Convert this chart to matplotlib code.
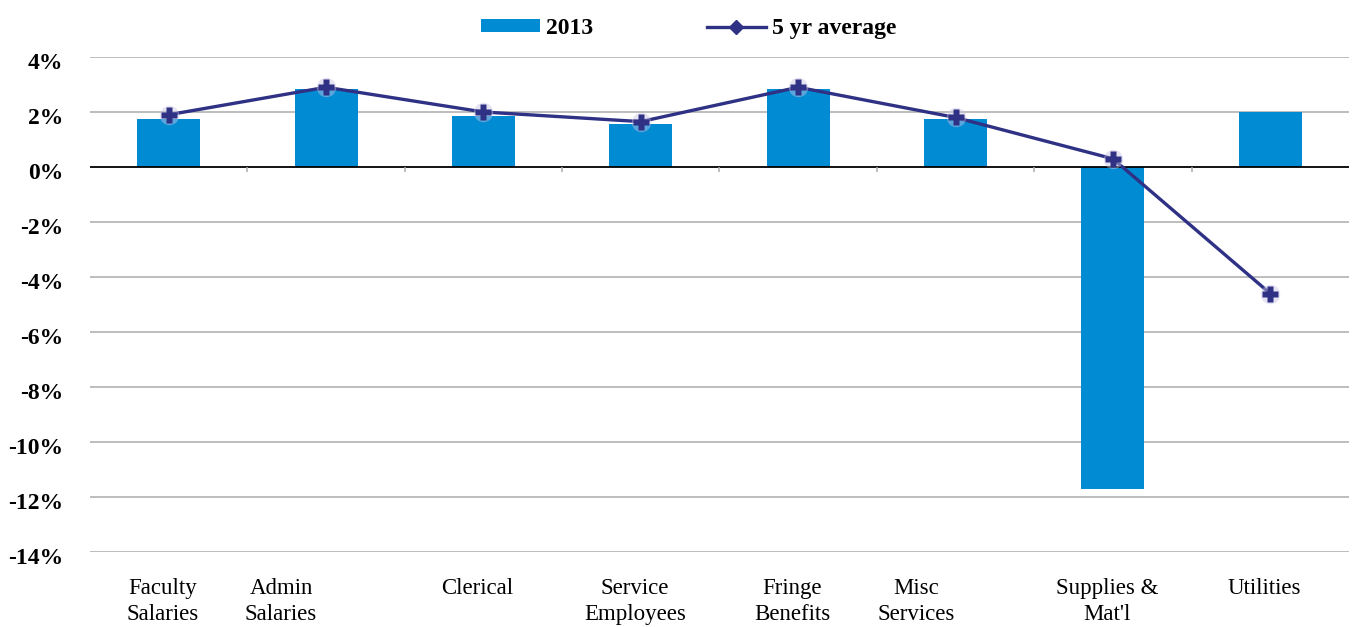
import matplotlib
matplotlib.use("Agg")
import matplotlib.pyplot as plt
import matplotlib.transforms as mtransforms
import numpy as np
from matplotlib.lines import Line2D
from matplotlib.patches import Patch

categories = ["Faculty\nSalaries", "Admin\nSalaries", "Clerical", "Service\nEmployees",
              "Fringe\nBenefits", "Misc\nServices", "Supplies &\nMat'l", "Utilities"]
values_2013 = [1.75, 2.85, 1.85, 1.55, 2.85, 1.75, -11.7, 2.0]
five_yr_avg = [1.9, 2.9, 2.0, 1.65, 2.9, 1.8, 0.3, -4.6]
y_ticks = [4, 2, 0, -2, -4, -6, -8, -10, -12, -14]

BAR = "#008BD2"
LINE = "#2E3184"
HALO = "#C9C5E6"
GRID = "#ABABAB"

plt.rcParams["font.family"] = ["Liberation Serif", "DejaVu Serif"]

fig = plt.figure(figsize=(13.53, 6.27), dpi=100)
ax = fig.add_axes([0.0665, 0.1196, 0.9305, 0.7895])

x = np.arange(len(categories))
ax.set_xlim(-0.5, len(categories) - 0.5)
ax.set_ylim(-14, 4)

for t in y_ticks:
    if t != 0:
        ax.axhline(t, color=GRID, lw=1.1, zorder=0)

ax.bar(x, values_2013, width=0.4, color=BAR, zorder=2)
ax.axhline(0, color="black", lw=1.3, zorder=3)
# separators between categories along the zero line
ax.vlines(x[:-1] + 0.5, 0, -0.2, color=GRID, lw=1.1, zorder=3)

ax.plot(x, five_yr_avg, color=LINE, lw=2.4, zorder=4)
ax.plot(x, five_yr_avg, ls="none", marker="o", ms=14, color=HALO, alpha=0.45, mec="none", zorder=5)
ax.plot(x, five_yr_avg, ls="none", marker="P", ms=11, color=LINE, mec="none", zorder=6)

for s in ax.spines.values():
    s.set_visible(False)

ax.set_yticks(y_ticks)
ax.set_yticklabels([f"{t}%" for t in y_ticks], fontsize=17, fontweight="bold")
ax.tick_params(axis="y", length=0, pad=19)
for lab in ax.get_yticklabels():
    lab.set_transform(lab.get_transform() + mtransforms.ScaledTranslation(0, -4 / 100, fig.dpi_scale_trans))

ax.set_xticks(x)
ax.set_xticklabels(categories, fontsize=16.5, linespacing=1.3)
ax.tick_params(axis="x", length=0, pad=19)
label_nudge = {1: -45, 5: -39}
for i, lab in enumerate(ax.get_xticklabels()):
    dx = label_nudge.get(i, -6)
    lab.set_transform(lab.get_transform() + mtransforms.ScaledTranslation(dx / 100, 0, fig.dpi_scale_trans))

handles = [Patch(facecolor=BAR, edgecolor="none"),
           Line2D([], [], color=LINE, lw=2.4, marker="D", ms=7)]
fig.legend(handles, ["2013", "5 yr average"], loc="upper center", bbox_to_anchor=(0.509, 1.005),
           ncol=2, frameon=False, prop={"size": 17, "weight": "bold"}, columnspacing=4.8,
           handlelength=2.5, handleheight=0.5, handletextpad=0.25)

fig.savefig("out.png", dpi=100)
